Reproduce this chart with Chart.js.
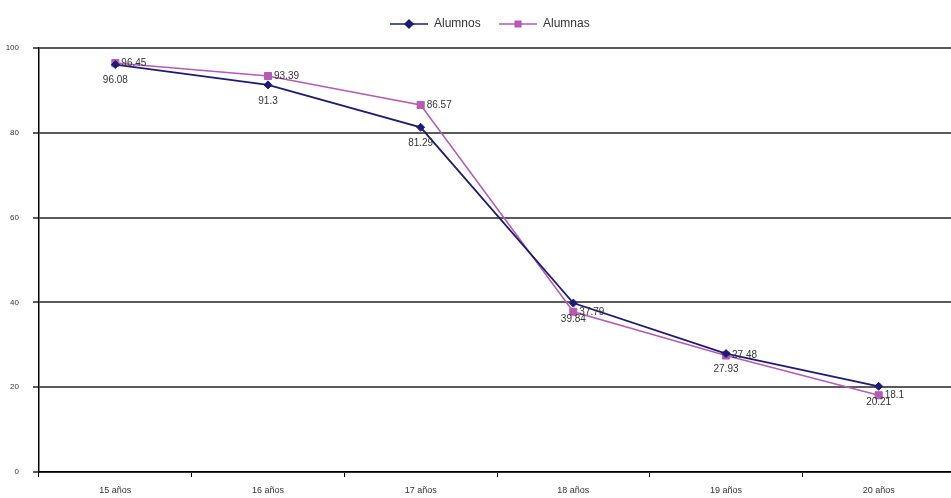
<!DOCTYPE html>
<html>
<head>
<meta charset="utf-8">
<script src="https://cdn.jsdelivr.net/npm/chart.js@4/dist/chart.umd.min.js"></script>
<style>
  html, body { margin: 0; padding: 0; background: #fff; overflow: hidden; }
  canvas { display: block; }
</style>
</head>
<body>
<!-- the plot area runs a little past the right edge of the reference, so the canvas is wider than the window -->
<canvas id="chart" width="961" height="498"></canvas>
<script>
// values
const categories = ['15 años', '16 años', '17 años', '18 años', '19 años', '20 años'];
const alumnos = [96.08, 91.3, 81.29, 39.84, 27.93, 20.21];
const alumnas = [96.45, 93.39, 86.57, 37.79, 27.48, 18.1];
const yTicks = [0, 20, 40, 60, 80, 100];

const BLUE = '#1c1c78';
const PINK = '#b65ab6';
const FONT = "'Liberation Sans', Arial, sans-serif";

// point labels: blue below the point, pink to the right
const pointLabels = {
    id: 'point-labels',
    afterDatasetsDraw(chart) {
        const { ctx } = chart;
        ctx.save();
        ctx.font = '10px ' + FONT;
        ctx.fillStyle = '#333';
        chart.data.datasets.forEach((ds, i) => {
            chart.getDatasetMeta(i).data.forEach((pt, j) => {
                const txt = String(ds.data[j]);
                if (i === 0) {
                    ctx.textAlign = 'center';
                    ctx.textBaseline = 'top';
                    ctx.fillText(txt, pt.x, pt.y + 11);
                } else {
                    ctx.textAlign = 'left';
                    ctx.textBaseline = 'middle';
                    ctx.fillText(txt, pt.x + 6, pt.y);
                }
            });
        });
        ctx.restore();
    }
};

// Excel style legend: short line with marker in the middle
const excelLegend = {
    id: 'excel-legend',
    afterDraw(chart) {
        const { ctx } = chart;
        const items = [
            { label: 'Alumnos', color: BLUE, style: 'rectRot', x: 390 },
            { label: 'Alumnas', color: PINK, style: 'rect', x: 499 }
        ];
        ctx.save();
        ctx.font = '12px ' + FONT;
        ctx.textBaseline = 'middle';
        items.forEach(it => {
            const y = 24;
            ctx.strokeStyle = it.color;
            ctx.lineWidth = 1.5;
            ctx.beginPath();
            ctx.moveTo(it.x, y);
            ctx.lineTo(it.x + 38, y);
            ctx.stroke();
            Chart.helpers.drawPoint(ctx, {
                pointStyle: it.style, radius: 4, borderWidth: 1, rotation: 0
            }, it.x + 19, y);
            ctx.fillStyle = it.color;
            ctx.fill();
            ctx.fillStyle = '#333';
            ctx.fillText(it.label, it.x + 44, y);
        });
        ctx.restore();
    }
};

new Chart(document.getElementById('chart'), {
    type: 'line',
    data: {
        labels: categories,
        datasets: [{
            label: 'Alumnos',
            data: alumnos,
            borderColor: BLUE,
            backgroundColor: BLUE,
            borderWidth: 1.8,
            pointStyle: 'rectRot',
            pointRadius: 4,
            pointBorderWidth: 1,
            tension: 0
        }, {
            label: 'Alumnas',
            data: alumnas,
            borderColor: PINK,
            backgroundColor: PINK,
            borderWidth: 1.5,
            pointStyle: 'rect',
            pointRadius: 5,
            pointBorderWidth: 1,
            tension: 0
        }]
    },
    options: {
        responsive: false,
        animation: false,
        layout: { padding: { top: 48, right: 1, left: 0, bottom: 0 } },
        plugins: {
            legend: { display: false },
            tooltip: { enabled: false }
        },
        scales: {
            x: {
                offset: true,
                grid: { offset: true, drawOnChartArea: false, drawTicks: true, tickLength: 5, color: '#000' },
                border: { color: '#000', width: 1.5 },
                ticks: { color: '#333', font: { size: 9, family: FONT }, padding: 8, maxRotation: 0 },
                afterFit(scale) { scale.height = 26; }
            },
            y: {
                min: 0, max: 100,
                afterBuildTicks(scale) { scale.ticks = yTicks.map(v => ({ value: v })); },
                grid: { color: '#5a5a5a', lineWidth: 2, tickLength: 6, drawTicks: true },
                border: { color: '#000', width: 1.5 },
                ticks: { color: '#333', font: { size: 8, family: FONT }, padding: 14 },
                afterFit(scale) { scale.width = 39; }
            }
        }
    },
    plugins: [pointLabels, excelLegend]
});
</script>
</body>
</html>
